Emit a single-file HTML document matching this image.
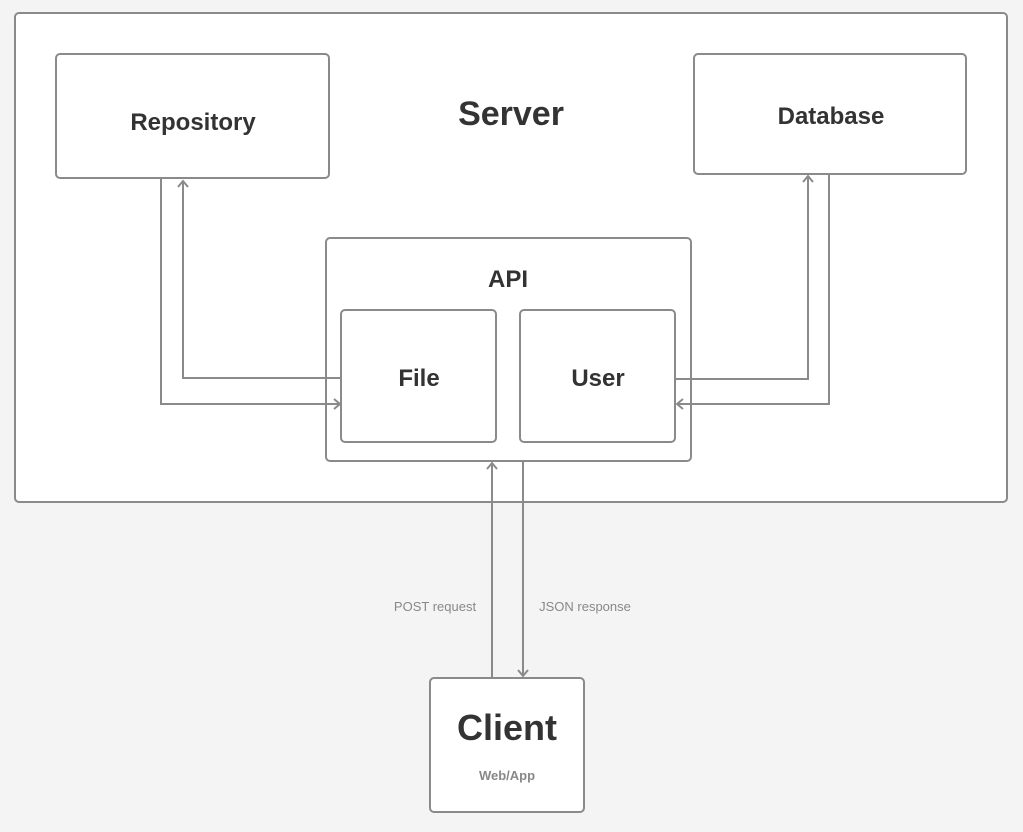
<!DOCTYPE html>
<html><head><meta charset="utf-8"><style>
html,body{margin:0;padding:0;background:#f4f4f4;}
svg{display:block;}
text{font-family:"Liberation Sans","DejaVu Sans",sans-serif;fill:#333;font-weight:bold;}
</style></head><body>
<svg width="1023" height="832" viewBox="0 0 1023 832" xmlns="http://www.w3.org/2000/svg">
<rect x="0" y="0" width="1023" height="832" fill="#f4f4f4"/>
<g stroke="#8a8a8a" stroke-width="2" fill="#fff">
<rect x="15" y="13" width="992" height="489" rx="4"/>
<rect x="56" y="54" width="273" height="124" rx="4"/>
<rect x="694" y="54" width="272" height="120" rx="4"/>
<rect x="326" y="238" width="365" height="223" rx="4"/>
<rect x="341" y="310" width="155" height="132" rx="4"/>
<rect x="520" y="310" width="155" height="132" rx="4"/>
<rect x="430" y="678" width="154" height="134" rx="4"/>
</g>
<g stroke="#8a8a8a" stroke-width="2" fill="none">
<polyline points="161,179 161,404 340,404"/>
<polyline points="334,399 340,404 334,409"/>
<polyline points="340,378 183,378 183,181"/>
<polyline points="178,187 183,181 188,187"/>
<polyline points="676,379 808,379 808,176"/>
<polyline points="803,182 808,176 813,182"/>
<polyline points="829,175 829,404 677,404"/>
<polyline points="683,399 677,404 683,409"/>
<polyline points="492,677 492,463"/>
<polyline points="487,469 492,463 497,469"/>
<polyline points="523,462 523,676"/>
<polyline points="518,670 523,676 528,670"/>
</g>
<text x="511" y="125" font-size="34" text-anchor="middle">Server</text>
<text x="193" y="130" font-size="24" text-anchor="middle">Repository</text>
<text x="831" y="124" font-size="24" text-anchor="middle">Database</text>
<text x="508" y="287" font-size="24" text-anchor="middle">API</text>
<text x="419" y="386" font-size="24" text-anchor="middle">File</text>
<text x="598" y="386" font-size="24" text-anchor="middle">User</text>
<text x="507" y="740" font-size="36" text-anchor="middle">Client</text>
<text x="507" y="780" font-size="13" text-anchor="middle" style="fill:#888">Web/App</text>
<text x="435" y="611" font-size="13" text-anchor="middle" style="fill:#888;font-weight:normal">POST request</text>
<text x="585" y="611" font-size="13" text-anchor="middle" style="fill:#888;font-weight:normal">JSON response</text>
</svg>
</body></html>
